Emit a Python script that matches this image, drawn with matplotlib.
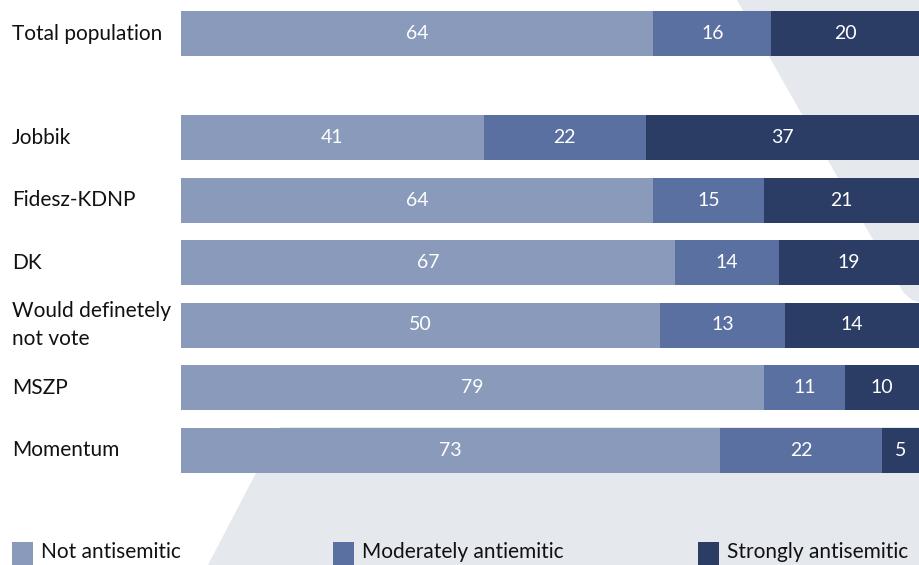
import matplotlib
matplotlib.use('Agg')
import matplotlib.pyplot as plt
from matplotlib.patches import Polygon, Rectangle
from matplotlib.transforms import blended_transform_factory
import numpy as np

# data, top to bottom
groups = ['Total population', 'Jobbik', 'Fidesz-KDNP', 'DK',
          'Would definetely\nnot vote', 'MSZP', 'Momentum']
not_anti = [64, 41, 64, 67, 50, 79, 73]
moderate = [16, 22, 15, 14, 13, 11, 22]
strong = [20, 37, 21, 19, 14, 10, 5]

series_names = ['Not antisemitic', 'Moderately antiemitic', 'Strongly antisemitic']
colors = ['#8a9aba', '#5970a0', '#2b3d64']

W, H = 919, 565
plt.rcParams['font.family'] = ['Lato', 'DejaVu Sans']
fig = plt.figure(figsize=(W / 100, H / 100), dpi=100)

def fx(px):
	return px / W

def fy(py):
	return 1 - py / H

#background shapes (decoration, pixel coords)
bg = '#e5e8ec'
upper = [(737, 0), (897, 282), (904, 293), (912, 300), (919, 302), (919, 0)]
lower = [(280, 427), (919, 427), (919, 565), (208, 565)]
for shape in (upper, lower):
	fig.patches.append(Polygon([(fx(x), fy(y)) for x, y in shape], closed=True,
		transform=fig.transFigure, facecolor=bg, edgecolor='none', zorder=0))

ax = fig.add_axes([fx(181), 0, fx(738), 1])
ax.set_facecolor('none')
ax.set_zorder(1)

# y positions: bottom group at 0, gap above Jobbik
n = len(groups)
pos = np.arange(n)[::-1].astype(float)
pos[0] += 0.66

vals = np.array([not_anti, moderate, strong], dtype=float)
totals = vals.sum(axis=0)
shares = vals / totals

left = np.zeros(n)
for i in range(3):
	ax.barh(pos, shares[i], left=left, height=0.72, color=colors[i], linewidth=0)
	for j in range(n):
		ax.text(left[j] + shares[i][j] / 2, pos[j], '%d' % vals[i][j], color='white',
			ha='center', va='center', fontsize=14)
	left = left + shares[i]

ax.set_xlim(0, 1)
ax.set_ylim(-1.84, 7.2)
ax.axis('off')

lab_tr = blended_transform_factory(fig.transFigure, ax.transData)
for j in range(n):
	ax.text(fx(12), pos[j], groups[j], transform=lab_tr,
		ha='left', va='center', fontsize=15, color='#111111', linespacing=1.5)

#legend at the bottom
leg_x = [12, 333, 698]
for i in range(3):
	fig.patches.append(Rectangle((fx(leg_x[i]), fy(565)), fx(21), 23 / H,
		transform=fig.transFigure, facecolor=colors[i], edgecolor='none', zorder=2))
	fig.text(fx(leg_x[i] + 29), fy(552), series_names[i], ha='left', va='center',
		fontsize=15, color='#111111')

fig.savefig('out.png', dpi=100)
